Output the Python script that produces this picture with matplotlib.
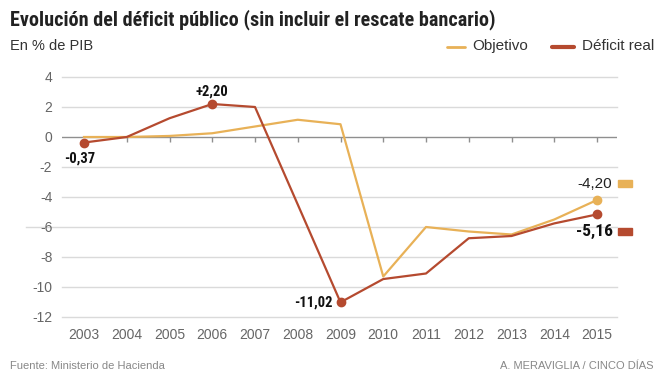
import matplotlib
matplotlib.use("Agg")
import matplotlib.pyplot as plt
from matplotlib.patches import Rectangle

years = list(range(2003, 2016))
objetivo = [0.0, 0.0, 0.07, 0.25, 0.7, 1.15, 0.85, -9.3, -6.0, -6.3, -6.5, -5.5, -4.2]
deficit_real = [-0.37, 0.0, 1.25, 2.2, 2.0, -4.5, -11.02, -9.47, -9.1, -6.75, -6.6, -5.76, -5.16]
yticks = [4, 2, 0, -2, -4, -6, -8, -10, -12]

REG = ["Liberation Sans", "DejaVu Sans"]
COND = ["Roboto Condensed", "Barlow Condensed", "Asap Condensed", "DejaVu Sans"]
plt.rcParams["font.family"] = REG

C_OBJ = "#E8B157"
C_REAL = "#B54A2F"
GRAY = "#666666"

W, H = 664, 378
fig = plt.figure(figsize=(W / 100, H / 100), dpi=100)
# axes: x 62..617 px, y 77..317 px (4 .. -12)
ax = fig.add_axes([62 / W, 1 - 317 / H, (617 - 62) / W, (317 - 77) / H])
ax.set_xlim(2003 - 22 / 42.75, 2015 + 20 / 42.75)
ax.set_ylim(-12, 4)
for s in ax.spines.values():
    s.set_visible(False)

for v in yticks:
    if v == 0:
        continue
    x0 = -36 / 555 if v == -6 else 0
    ax.axhline(v, xmin=x0, color="#dadada", lw=1, zorder=1, clip_on=False)
ax.axhline(0, color="#8f8f8f", lw=1, zorder=2)
ax.vlines(years[1:], 0, -0.3, color="#8f8f8f", lw=1, zorder=2)

ax.set_yticks(yticks)
ax.set_yticklabels([str(v) for v in yticks])
ax.set_xticks(years)
ax.set_xticklabels([str(y) for y in years])
ax.tick_params(length=0, labelsize=10, colors=GRAY)
ax.tick_params(axis="y", pad=7)
ax.tick_params(axis="x", pad=8)

ax.plot(years, objetivo, color=C_OBJ, lw=1.6, zorder=3, clip_on=False)
ax.plot(years, deficit_real, color=C_REAL, lw=1.6, zorder=4, clip_on=False)

for i in [0, 3, 6, 12]:
    ax.plot(years[i], deficit_real[i], "o", color=C_REAL, ms=6, zorder=5, clip_on=False)
ax.plot(years[12], objetivo[12], "o", color=C_OBJ, ms=6, zorder=5, clip_on=False)

def fmt(v, sign=False):
    s = f"{v:+.2f}" if sign else f"{v:.2f}"
    return s.replace(".", ",")

lab = dict(textcoords="offset points", va="center", fontsize=10.5,
           fontweight="bold", color="#111111", family=COND)
ax.annotate(fmt(deficit_real[0]), (years[0], deficit_real[0]), xytext=(-3, -11.5),
            ha="center", **lab)
ax.annotate(fmt(deficit_real[3], True), (years[3], deficit_real[3]), xytext=(0, 9),
            ha="center", **lab)
ax.annotate(fmt(deficit_real[6]), (years[6], deficit_real[6]), xytext=(-5.5, 0),
            ha="right", **lab)

# end labels with colour squares
fig.text(612 / W, 1 - 184 / H, fmt(objetivo[12]), ha="right", va="center",
         fontsize=11, color="#222222")
fig.text(613 / W, 1 - 231 / H, fmt(deficit_real[12]), ha="right", va="center",
         fontsize=12.5, fontweight="bold", color="#111111", family=COND)
fig.patches.append(Rectangle((618 / W, 1 - 187 / H), 14 / W, 7 / H,
                             transform=fig.transFigure, color=C_OBJ))
fig.patches.append(Rectangle((618 / W, 1 - 235 / H), 14 / W, 7 / H,
                             transform=fig.transFigure, color=C_REAL))

# titles
fig.text(10 / W, 1 - 20 / H, "Evolución del déficit público (sin incluir el rescate bancario)",
         ha="left", va="center", fontsize=14.5, fontweight="bold", color="#222222",
         family=COND)
fig.text(10 / W, 1 - 46 / H, "En % de PIB", ha="left", va="center",
         fontsize=10.5, color="#333333")

# legend
fig.lines.append(plt.Line2D([447 / W, 465 / W], [1 - 46.5 / H] * 2, transform=fig.transFigure,
                            color=C_OBJ, lw=2, solid_capstyle="round"))
fig.text(472 / W, 1 - 46 / H, "Objetivo", ha="left", va="center", fontsize=11, color="#333333")
fig.lines.append(plt.Line2D([552 / W, 574 / W], [1 - 46.5 / H] * 2, transform=fig.transFigure,
                            color=C_REAL, lw=3, solid_capstyle="round"))
fig.text(582 / W, 1 - 46 / H, "Déficit real", ha="left", va="center", fontsize=11, color="#333333")

# footer
fig.text(10 / W, 1 - 366 / H, "Fuente: Ministerio de Hacienda", ha="left", va="center",
         fontsize=8, color="#888888")
fig.text(654 / W, 1 - 366 / H, "A. MERAVIGLIA / CINCO DÍAS", ha="right", va="center",
         fontsize=8, color="#888888")

fig.savefig("out.png", dpi=100)
